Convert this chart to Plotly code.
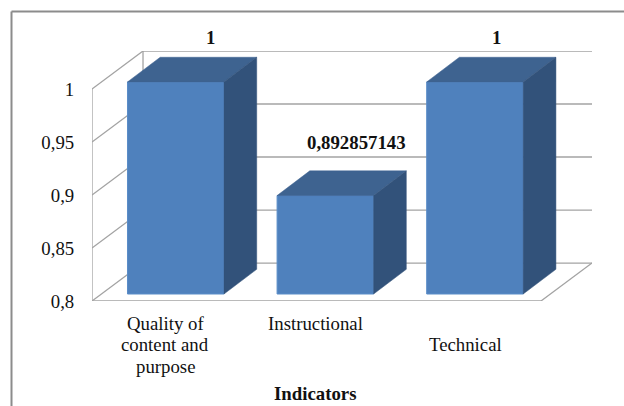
import plotly.graph_objects as go

categories = ["Quality of<br>content and<br>purpose", "Instructional", "Technical"]
values = [1, 0.892857143, 1]
value_labels = ["1", "0,892857143", "1"]
tick_vals = [0.8, 0.85, 0.9, 0.95, 1]
tick_text = ["0,8", "0,85", "0,9", "0,95", "1"]

FONT = "Liberation Serif"
FONT_SIZE = 18.8
TEXT = "#111111"
WALL = "#a3a3a3"
FRONT, TOP, SIDE = "#4f81bd", "#3e6390", "#32527a"

# fake 3d, all offsets in axis units (149.6 px per category, 1060 px per 1.0)
W = 0.3226
BAR_DX, BAR_DY = 0.2186, 0.0233
WALL_DX, WALL_DY = 0.341, 0.0358
LIFT = 0.0066
X0, X1 = -0.5598, 2.7824
FLOOR_X1 = 2.4415
Y0 = 0.8

fig = go.Figure()

# front faces
base = Y0 + LIFT
fig.add_trace(go.Bar(
    x=list(range(len(values))), y=[v - Y0 for v in values], base=base, width=2 * W,
    marker=dict(color=FRONT, line=dict(color="#5b8dc8", width=1)),
    hoverinfo="skip", showlegend=False,
))

# top and side faces
for i, v in enumerate(values):
    top = v + LIFT
    fig.add_trace(go.Scatter(
        x=[i - W, i + W, i + W + BAR_DX, i - W + BAR_DX, i - W],
        y=[top, top, top + BAR_DY, top + BAR_DY, top],
        mode="lines", fill="toself", fillcolor=TOP, line=dict(color=TOP, width=0.5),
        hoverinfo="skip", showlegend=False,
    ))
    fig.add_trace(go.Scatter(
        x=[i + W, i + W + BAR_DX, i + W + BAR_DX, i + W, i + W],
        y=[top, top + BAR_DY, base + BAR_DY, base, top],
        mode="lines", fill="toself", fillcolor=SIDE, line=dict(color=SIDE, width=0.5),
        hoverinfo="skip", showlegend=False,
    ))

# back wall, side wall and floor
shapes = []


def wall_line(x_a, y_a, x_b, y_b, width=1.3):
    shapes.append(dict(type="line", xref="x", yref="y", x0=x_a, y0=y_a, x1=x_b, y1=y_b,
                       layer="below", line=dict(color=WALL, width=width)))


for t in tick_vals:
    wall_line(X0, t, X0 + WALL_DX, t + WALL_DY)
    wall_line(X0 + WALL_DX, t + WALL_DY, X1, t + WALL_DY)
wall_line(X0, Y0, X0, 1)
wall_line(X0 + WALL_DX, Y0 + WALL_DY, X0 + WALL_DX, 1 + WALL_DY)
wall_line(X0, Y0, FLOOR_X1, Y0, 1.6)
wall_line(FLOOR_X1, Y0, X1, Y0 + WALL_DY)

# outer chart border, runs off the picture on the right and bottom
border = dict(color="#8c8c8c", width=2)
shapes.append(dict(type="line", xref="paper", yref="paper", x0=-0.161, x1=1.2, y0=1.158, y1=1.158, line=border))
shapes.append(dict(type="line", xref="paper", yref="paper", x0=-0.161, x1=-0.161, y0=1.158, y1=-0.5, line=border))

annotations = []

# data labels, placed by hand in the original
label_dx = [0.229, 0.205, 0.147]
label_shift_px = [51, 59.6, 51]
for i, txt in enumerate(value_labels):
    annotations.append(dict(
        x=i + label_dx[i], y=values[i], xref="x", yref="y", yshift=label_shift_px[i],
        text=f"<b>{txt}</b>", showarrow=False, font=dict(family=FONT, size=FONT_SIZE, color=TEXT),
    ))

# category labels, one annotation per line for the tight line spacing
cat_dx = [-0.0686, -0.0668, -0.0602]
cat_first_row = [0, 0, 1]
for i, cat in enumerate(categories):
    for j, line in enumerate(cat.split("<br>")):
        annotations.append(dict(
            x=i + cat_dx[i], y=0, xref="x", yref="paper", yanchor="middle",
            yshift=-22 - 21.7 * (cat_first_row[i] + j), text=line, showarrow=False,
            font=dict(family=FONT, size=FONT_SIZE, color=TEXT),
        ))

annotations.append(dict(
    x=0.934, y=0, xref="x", yref="paper", yshift=-92, yanchor="middle", text="<b>Indicators</b>",
    showarrow=False, font=dict(family=FONT, size=FONT_SIZE, color=TEXT),
))

fig.update_layout(
    width=624, height=406,
    margin=dict(l=92, r=32, t=51, b=105, pad=0),
    paper_bgcolor="white", plot_bgcolor="white",
    showlegend=False, shapes=shapes, annotations=annotations,
    xaxis=dict(range=[X0, X1], showgrid=False, zeroline=False, showline=False, showticklabels=False, ticks=""),
    yaxis=dict(
        range=[Y0, 1.0358], tickvals=tick_vals, ticktext=tick_text, showgrid=False, zeroline=False,
        showline=False, ticks="outside", ticklen=13, tickcolor="rgba(0,0,0,0)",
        tickfont=dict(family=FONT, size=FONT_SIZE, color=TEXT),
    ),
)

fig.write_html("out.html", config={"displayModeBar": False},
               post_script="document.body.style.margin='0';")
